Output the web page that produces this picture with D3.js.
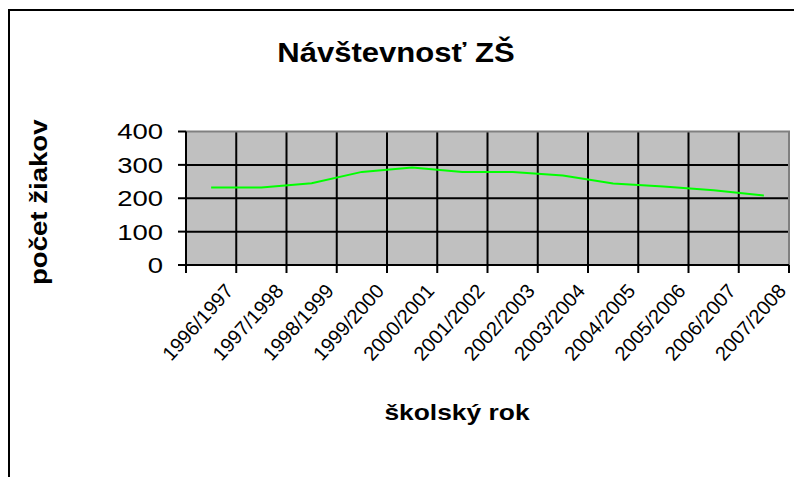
<!DOCTYPE html>
<html>
<head>
<meta charset="utf-8">
<style>
  body { margin: 0; background: #fff; }
  text { font-family: "Liberation Sans", Arial, sans-serif; }
</style>
</head>
<body>
<div id="container"></div>
<script src="https://d3js.org/d3.v7.min.js"></script>
<script>
// data
const years = ["1996/1997", "1997/1998", "1998/1999", "1999/2000", "2000/2001", "2001/2002",
               "2002/2003", "2003/2004", "2004/2005", "2005/2006", "2006/2007", "2007/2008"];
const pupils = [232, 232, 245, 279, 292, 279, 279, 268, 244, 235, 224, 208];
const yTicks = [0, 100, 200, 300, 400];

const width = 794;
const height = 477;
const plotLeft = 186, plotRight = 789, plotTop = 131.5, plotBottom = 265;

const svg = d3.select("#container").append("svg")
    .attr("width", width)
    .attr("height", height);

// chart frame (runs off the right and bottom)
svg.append("rect")
    .attr("x", 9).attr("y", 10)
    .attr("width", 820).attr("height", 520)
    .attr("fill", "#fff")
    .attr("stroke", "#000")
    .attr("stroke-width", 2);

const x = d3.scaleBand()
    .domain(years)
    .range([plotLeft, plotRight])
    .paddingInner(0).paddingOuter(0);

const y = d3.scaleLinear()
    .domain([0, 400])
    .range([plotBottom, plotTop]);

// plot area
svg.append("rect")
    .attr("x", plotLeft).attr("y", y(400))
    .attr("width", plotRight - plotLeft).attr("height", y(0) - y(400))
    .attr("fill", "#c0c0c0");

const bounds = years.map(d => x(d)).concat([plotRight]);

// vertical grid lines at category boundaries
svg.append("g")
  .selectAll("line")
  .data(bounds.slice(1, -1))
  .join("line")
    .attr("x1", d => d).attr("x2", d => d)
    .attr("y1", y(400)).attr("y2", y(0))
    .attr("stroke", "#000").attr("stroke-width", 2);

// horizontal grid lines
svg.append("g")
  .selectAll("line")
  .data(yTicks.slice(1, -1))
  .join("line")
    .attr("x1", plotLeft).attr("x2", plotRight)
    .attr("y1", d => y(d)).attr("y2", d => y(d))
    .attr("stroke", "#000").attr("stroke-width", 2);

// plot border top / right in grey
svg.append("path")
    .attr("d", `M${plotLeft},${y(400)}H${plotRight}V${y(0)}`)
    .attr("fill", "none")
    .attr("stroke", "#808080")
    .attr("stroke-width", 2);

// y axis
const yAxis = svg.append("g");
yAxis.append("line")
    .attr("x1", plotLeft).attr("x2", plotLeft)
    .attr("y1", y(400)).attr("y2", y(0))
    .attr("stroke", "#000").attr("stroke-width", 2);
yAxis.selectAll(".tk")
  .data(yTicks)
  .join("line")
    .attr("class", "tk")
    .attr("x1", plotLeft - 8).attr("x2", plotLeft)
    .attr("y1", d => y(d)).attr("y2", d => y(d))
    .attr("stroke", "#000").attr("stroke-width", 2);
yAxis.selectAll("text")
  .data(yTicks)
  .join("text")
    .attr("transform", d => `translate(163,${y(d)}) scale(1.25,1)`)
    .attr("dy", "0.36em")
    .attr("text-anchor", "end")
    .attr("font-size", 22)
    .text(d => d);

// x axis
const xAxis = svg.append("g");
xAxis.append("line")
    .attr("x1", plotLeft).attr("x2", plotRight)
    .attr("y1", y(0)).attr("y2", y(0))
    .attr("stroke", "#000").attr("stroke-width", 2);
xAxis.selectAll(".tk")
  .data(bounds)
  .join("line")
    .attr("class", "tk")
    .attr("x1", d => d).attr("x2", d => d)
    .attr("y1", y(0)).attr("y2", y(0) + 8)
    .attr("stroke", "#000").attr("stroke-width", 2);
xAxis.selectAll("text")
  .data(years)
  .join("text")
    .attr("transform", d => `translate(${x(d) + x.bandwidth() / 2 + 18},${y(0) + 22}) rotate(-48)`)
    .attr("dy", "0.36em")
    .attr("text-anchor", "end")
    .attr("font-size", 20)
    .text(d => d);

// line
const line = d3.line()
    .x((d, i) => x(years[i]) + x.bandwidth() / 2)
    .y(d => y(d));

svg.append("path")
    .datum(pupils)
    .attr("fill", "none")
    .attr("stroke", "#00ff00")
    .attr("stroke-width", 2)
    .attr("d", line);

// titles
svg.append("text")
    .attr("transform", "translate(396,62) scale(1.15,1)")
    .attr("text-anchor", "middle")
    .attr("font-size", 27)
    .attr("font-weight", "bold")
    .text("Návštevnosť ZŠ");

svg.append("text")
    .attr("transform", "translate(457,420) scale(1.2,1)")
    .attr("text-anchor", "middle")
    .attr("font-size", 22)
    .attr("font-weight", "bold")
    .text("školský rok");

svg.append("text")
    .attr("transform", `translate(47,${(plotTop + plotBottom) / 2 + 4}) rotate(-90) scale(1.2,1)`)
    .attr("text-anchor", "middle")
    .attr("font-size", 23)
    .attr("font-weight", "bold")
    .text("počet žiakov");
</script>
</body>
</html>
